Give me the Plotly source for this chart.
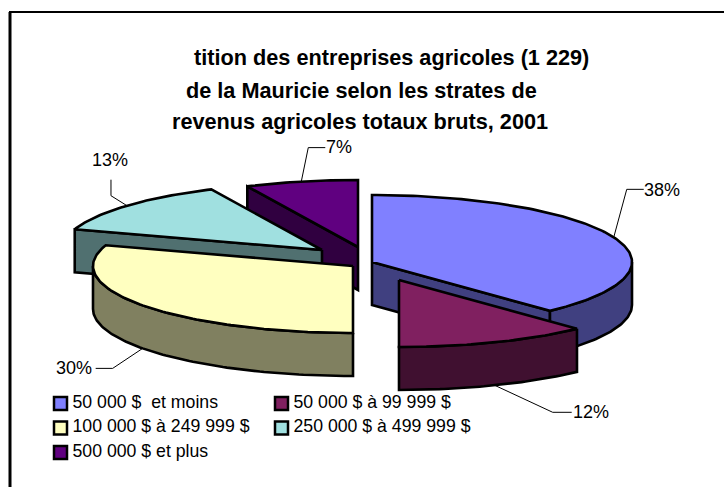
import math
import plotly.graph_objects as go

# ---- data ----
categories = ["50 000 $  et moins", "50 000 $ à 99 999 $", "100 000 $ à 249 999 $",
              "250 000 $ à 499 999 $", "500 000 $ et plus"]
values = [38, 12, 30, 13, 7]
top_colors = ["#8080FF", "#802060", "#FFFFC0", "#A0E0E0", "#600080"]
wall_colors = ["#404080", "#401030", "#808060", "#507070", "#300040"]
title_lines = ["tition des entreprises agricoles (1 229)",
               "de la Mauricie selon les strates de",
               "revenus agricoles totaux bruts, 2001"]

# ---- layout constants (pixels) ----
W, H = 724, 487
A, B, DEPTH = 260, 67, 43
apex = [(372, 262), (399, 280), (353, 266), (322, 250), (358, 247)]
draw_order = [4, 3, 0, 2, 1]
leader_bends = [[(13, -48), (30, -48)], [(58, 27), (77, 27)], [(-30, 20), (-47, 20)],
                [(-16, -10), (-16, -26)], [(7, -34), (24, -34)]]
leader_depth = [0, DEPTH, DEPTH, 0, 0]
label_pos = [(662, 191), (591, 413), (74, 369), (110, 161), (339, 148)]
legend_pos = [(60.5, 403.5), (281.5, 403.5), (60.5, 428), (281.5, 428), (60.5, 452.5)]
FONT = "Liberation Sans, Arial, sans-serif"
fig = go.Figure()


def pt(c, deg, dy=0):
    r = math.radians(deg)
    return c[0] + A * math.sin(r), c[1] - B * math.cos(r) + dy


def arc(c, a0, a1, dy=0, step=1.0):
    n = max(2, int(abs(a1 - a0) / step))
    return [pt(c, a0 + (a1 - a0) * i / n, dy) for i in range(n + 1)]


def poly(points, fill):
    xs = [p[0] for p in points] + [points[0][0]]
    ys = [p[1] for p in points] + [points[0][1]]
    fig.add_trace(go.Scatter(x=xs, y=ys, mode="lines", fill="toself", fillcolor=fill,
                             line=dict(color="black", width=2.6), hoverinfo="skip",
                             showlegend=False))


# slice angles from the values
angles = []
t = 0.0
for v in values:
    angles.append((t, t + v * 3.6))
    t += v * 3.6

for i in draw_order:
    c = apex[i]
    a0, a1 = angles[i]
    low = (c[0], c[1] + DEPTH)
    # radial walls that face the viewer
    if math.cos(math.radians(a0 - 90)) < -0.01:
        p = pt(c, a0)
        poly([c, p, (p[0], p[1] + DEPTH), low], wall_colors[i])
    if math.cos(math.radians(a1 + 90)) < -0.01:
        p = pt(c, a1)
        poly([c, p, (p[0], p[1] + DEPTH), low], wall_colors[i])
    # outer rim
    f0, f1 = max(a0, 90), min(a1, 270)
    if f1 > f0:
        poly(arc(c, f0, f1) + arc(c, f1, f0, DEPTH), wall_colors[i])
    # top face
    poly([c] + arc(c, a0, a1), top_colors[i])

# leader lines and percentage labels
for i, v in enumerate(values):
    mid = sum(angles[i]) / 2
    s = pt(apex[i], mid, leader_depth[i])
    xs = [s[0]] + [s[0] + b[0] for b in leader_bends[i]]
    ys = [s[1]] + [s[1] + b[1] for b in leader_bends[i]]
    fig.add_trace(go.Scatter(x=xs, y=ys, mode="lines", line=dict(color="black", width=1),
                             hoverinfo="skip", showlegend=False))
    fig.add_trace(go.Scatter(x=[label_pos[i][0]], y=[label_pos[i][1]], mode="text",
                             text=[f"{v}%"], textposition="middle center",
                             textfont=dict(family=FONT, size=18, color="black"),
                             hoverinfo="skip", showlegend=False))

# legend
fig.add_trace(go.Scatter(x=[p[0] for p in legend_pos], y=[p[1] for p in legend_pos],
                         mode="markers", hoverinfo="skip", showlegend=False,
                         marker=dict(symbol="square", size=13, color=top_colors,
                                     line=dict(color="black", width=2.5))))
fig.add_trace(go.Scatter(x=[p[0] + 12 for p in legend_pos], y=[p[1] for p in legend_pos],
                         mode="text", text=categories, textposition="middle right",
                         textfont=dict(family=FONT, size=17.7, color="black"),
                         hoverinfo="skip", showlegend=False))

# title
title_x = [391, 361, 360]
title_y = [57, 90, 121]
for s, x, y in zip(title_lines, title_x, title_y):
    fig.add_annotation(x=x, y=y, text=s, showarrow=False, xanchor="center", yanchor="middle",
                       font=dict(family=FONT, size=21.7, color="black", weight="bold"))

fig.update_layout(width=W, height=H, margin=dict(l=0, r=0, t=0, b=0), showlegend=False,
                  paper_bgcolor="white", plot_bgcolor="white",
                  xaxis=dict(range=[0, W], visible=False, fixedrange=True),
                  yaxis=dict(range=[H, 0], visible=False, fixedrange=True))
fig.add_shape(type="line", x0=10, y0=12, x1=10, y1=H, line=dict(color="black", width=3), layer="below")
fig.add_shape(type="line", x0=9, y0=12, x1=W, y1=12, line=dict(color="black", width=2), layer="below")
fig.write_html("out.html", config={"displayModeBar": False},
               post_script="document.body.style.margin='0';document.body.style.overflow='hidden';")
